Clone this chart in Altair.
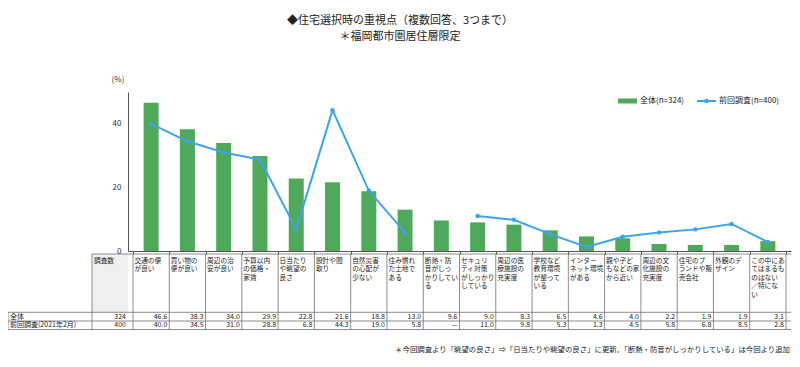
import altair as alt
import pandas as pd

# ---------------- data ----------------
headers = [
    "交通の便\nが良い",
    "買い物の\n便が良い",
    "周辺の治\n安が良い",
    "予算以内\nの価格・\n家賃",
    "日当たり\nや眺望の\n良さ",
    "設計や間\n取り",
    "自然災害\nの心配が\n少ない",
    "住み慣れ\nた土地で\nある",
    "断熱・防\n音がしっ\nかりしてい\nる",
    "セキュリ\nティ対策\nがしっかり\nしている",
    "周辺の医\n療施設の\n充実度",
    "学校など\n教育環境\nが整って\nいる",
    "インター\nネット環境\nがある",
    "親や子ど\nもなどの家\nから近い",
    "周辺の文\n化施設の\n充実度",
    "住宅のブ\nランドや販\n売会社",
    "外観のデ\nザイン",
    "この中にあ\nてはまるも\nのはない\n／特にな\nい",
]
overall = [46.6, 38.3, 34.0, 29.9, 22.8, 21.6, 18.8, 13.0, 9.6, 9.0,
           8.3, 6.5, 4.6, 4.0, 2.2, 1.9, 1.9, 3.1]
previous = [40.0, 34.5, 31.0, 28.8, 6.8, 44.3, 19.0, 5.8, None, 11.0,
            9.8, 5.3, 1.3, 4.5, 5.8, 6.8, 8.5, 2.8]
sample_sizes = [324, 400]
row_labels = ["全体", "前回調査(2021年2月)"]
count_header = "調査数"
y_ticks = [0, 20, 40]
title_lines = ["◆住宅選択時の重視点（複数回答、3つまで）", "＊福岡都市圏居住層限定"]
unit_label = "(%)"
legend_labels = ["全体(n=324)", "前回調査(n=400)"]
footnote = "＊今回調査より「眺望の良さ」⇒「日当たりや眺望の良さ」に更新。「断熱・防音がしっかりしている」は今回より追加"

# ---------------- layout / style ----------------
FONT = "Noto Sans CJK JP"
GREEN = "#50a95a"
BLUE = "#3fa3e8"
GRID = "#6e6e6e"
TXT = "#222222"
W, H = 663, 159          # plot area (page x 128..791, y 92..251)
OX, OY = 128, 92         # page origin of plot area
def px(x): return x - OX
def py(y): return y - OY

n = len(headers)
df = pd.DataFrame({
    "idx": list(range(n)),
    "header": headers,
    "overall": overall,
    "previous": previous,
})
df["pos"] = df["idx"] + 0.5
df["right"] = df["idx"] + 1
df["seg"] = df["previous"].isna().cumsum()
df["all_label"] = [f"{v:.1f}" for v in overall]
df["prev_label"] = ["—" if v is None else f"{v:.1f}" for v in previous]

xscale = alt.Scale(domain=[0, n], nice=False, zero=False)
yscale = alt.Scale(domain=[0, 50], nice=False)
xaxis = alt.Axis(values=list(range(n + 1)), labels=False, tickSize=3,
                 tickColor="#555", domainColor="#555", grid=False, title=None)
yaxis = alt.Axis(values=y_ticks, ticks=False, labelPadding=7, labelFontSize=8,
                 labelColor="#333", domainColor="#555", grid=False, title=None)

def X(field):
    return alt.X(field, scale=xscale, axis=xaxis)

base = alt.Chart(df)

bars = base.mark_bar(color=GREEN, size=15).encode(
    x=X("pos:Q"),
    y=alt.Y("overall:Q", scale=yscale, axis=yaxis),
)

line = base.transform_filter("isValid(datum.previous)").mark_line(
    color=BLUE, strokeWidth=2,
    point=alt.OverlayMarkDef(color=BLUE, filled=True, size=20, opacity=1),
).encode(
    x=X("pos:Q"),
    y=alt.Y("previous:Q", scale=yscale, axis=yaxis),
    detail="seg:N",
)

one = pd.DataFrame({"a": [0]})

def txt(text, x, y, **kw):
    return alt.Chart(pd.DataFrame({"t": [text]})).mark_text(**kw).encode(
        x=alt.value(x), y=alt.value(y), text="t:N")

def hrule(y, x0, x1):
    return alt.Chart(one).mark_rule(color=GRID, strokeWidth=0.8).encode(
        x=alt.value(x0), x2=alt.value(x1), y=alt.value(y))

def vrule(x, y0, y1):
    return alt.Chart(one).mark_rule(color=GRID, strokeWidth=0.8).encode(
        x=alt.value(x), y=alt.value(y0), y2=alt.value(y1))

T_TOP, T_HEAD, T_R1, T_R2 = py(254), py(312.3), py(321), py(329.5)
X_LAB, X_CNT = px(8), px(92)

# grey header cell of 調査数
grey = alt.Chart(one).mark_rect(color="#efefef").encode(
    x=alt.value(X_CNT), x2=alt.value(0), y=alt.value(T_TOP), y2=alt.value(T_HEAD))

bounds = pd.DataFrame({"k": list(range(n + 1))})
vlines = alt.Chart(bounds).mark_rule(color=GRID, strokeWidth=0.8).encode(
    x=X("k:Q"),
    y=alt.value(T_TOP), y2=alt.value(T_R2))

table_lines = [
    hrule(T_TOP, X_CNT, W),
    hrule(T_HEAD, X_LAB, W),
    hrule(T_R1, X_LAB, W),
    hrule(T_R2, X_LAB, W),
    vrule(X_CNT, T_TOP, T_R2),
    vrule(X_LAB, T_HEAD, T_R2),
]

head_text = base.mark_text(align="left", baseline="top", fontSize=6.7, lineBreak="\n",
                           lineHeight=8.6, dx=1.5, color=TXT).encode(
    x=X("idx:Q"),
    y=alt.value(py(257.5)),
    text="header:N",
)

Y1, Y2 = py(316.8), py(325.4)
FS_ROW = 7
row1 = base.mark_text(align="right", baseline="middle", fontSize=FS_ROW, dx=-2, color=TXT).encode(
    x=X("right:Q"), y=alt.value(Y1), text="all_label:N")
row2 = base.mark_text(align="right", baseline="middle", fontSize=FS_ROW, dx=-2, color=TXT).encode(
    x=X("right:Q"), y=alt.value(Y2), text="prev_label:N")

labels = [
    txt(count_header, X_CNT + 2, py(257.5), align="left", baseline="top", fontSize=6.7, color=TXT),
    txt(row_labels[0], X_LAB + 2, Y1, align="left", baseline="middle", fontSize=FS_ROW, color=TXT),
    txt(row_labels[1], X_LAB + 2, Y2, align="left", baseline="middle", fontSize=FS_ROW, color=TXT),
    txt(str(sample_sizes[0]), -2, Y1, align="right", baseline="middle", fontSize=FS_ROW, color=TXT),
    txt(str(sample_sizes[1]), -2, Y2, align="right", baseline="middle", fontSize=FS_ROW, color=TXT),
    txt(title_lines[0], px(400), py(21), align="center", baseline="middle", fontSize=11, color=TXT),
    txt(title_lines[1], px(400), py(37), align="center", baseline="middle", fontSize=11, color=TXT),
    txt(unit_label, px(118), py(80), align="center", baseline="middle", fontSize=8, color="#333"),
    txt(legend_labels[0], px(640), py(101), align="left", baseline="middle", fontSize=8, color=TXT),
    txt(legend_labels[1], px(719), py(101), align="left", baseline="middle", fontSize=8, color=TXT),
    txt(footnote, px(790), py(350), align="right", baseline="middle", fontSize=7.4, color=TXT),
]

leg_rect = alt.Chart(one).mark_rect(color=GREEN).encode(
    x=alt.value(px(618)), x2=alt.value(px(637)), y=alt.value(py(98.5)), y2=alt.value(py(103.5)))
leg_line = alt.Chart(one).mark_rule(color=BLUE, strokeWidth=2).encode(
    x=alt.value(px(697)), x2=alt.value(px(716)), y=alt.value(py(101)))
leg_pt = alt.Chart(one).mark_point(color=BLUE, filled=True, size=20, opacity=1).encode(
    x=alt.value(px(706.5)), y=alt.value(py(101)))

chart = alt.layer(
    bars, grey, vlines, *table_lines, head_text, row1, row2, *labels,
    leg_rect, leg_line, leg_pt, line,
).properties(
    width=W, height=H,
    autosize=alt.AutoSizeParams(type="none"),
    padding={"left": 120, "top": 84, "right": 1, "bottom": 103},
    background="white",
).configure(font=FONT).configure_view(stroke=None)

chart.save("out.html", embed_options={"renderer": "svg", "actions": False})
